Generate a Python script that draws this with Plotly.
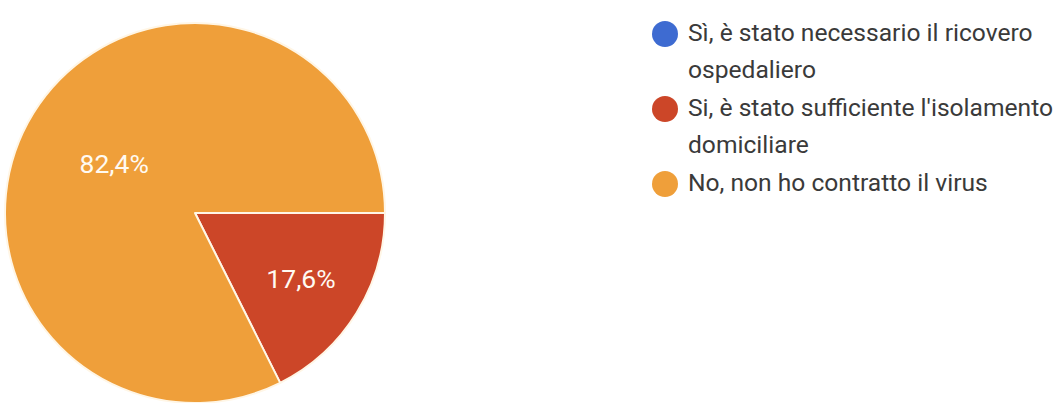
import plotly.graph_objects as go

# Survey answers and their shares (%)
labels = [
    "Sì, è stato necessario il ricovero ospedaliero",
    "Si, è stato sufficiente l'isolamento domiciliare",
    "No, non ho contratto il virus",
]
legend_lines = [
    ["Sì, è stato necessario il ricovero", "ospedaliero"],
    ["Si, è stato sufficiente l'isolamento", "domiciliare"],
    ["No, non ho contratto il virus"],
]
values = [0.0, 17.6, 82.4]
colors = ["#3e6bd1", "#cc4628", "#ef9f3a"]

W, H = 1056, 403
FONT = "Roboto, Arial, sans-serif"

fig = go.Figure()

# Pie: centre (195, 213) px, radius 190 px
cx, cy, r = 195, 213, 190
fig.add_trace(go.Pie(
    labels=labels,
    values=values,
    sort=False,
    direction="clockwise",
    rotation=90,
    marker=dict(colors=colors, line=dict(color="#fff6e6", width=2)),
    texttemplate=["" if v == 0 else "%{percent:.1%}" for v in values],
    textposition="inside",
    insidetextorientation="horizontal",
    textfont=dict(family=FONT, size=26.5, color="#fffaf2"),
    showlegend=False,
    hoverinfo="label+percent",
    domain=dict(x=[(cx - r) / W, (cx + r) / W], y=[1 - (cy + r) / H, 1 - (cy - r) / H]),
))

# Legend drawn on a pixel-space overlay axis
leg_x_dot, leg_x_text = 665, 686
first_y, line_gap = 32, 37.5
dot_x, dot_y = [], []
y = first_y
annotations = []
for lines in legend_lines:
    dot_x.append(leg_x_dot)
    dot_y.append(y + 2)
    for ln in lines:
        annotations.append(dict(
            x=leg_x_text, y=y, xref="x", yref="y", text=ln, showarrow=False,
            xanchor="left", yanchor="middle",
            font=dict(family=FONT, size=24.6, color="#3a3a3a"),
        ))
        y += line_gap

fig.add_trace(go.Scatter(
    x=dot_x, y=dot_y, mode="markers",
    marker=dict(size=26, color=colors, line=dict(width=0)),
    showlegend=False, hoverinfo="skip",
))

fig.update_layout(
    width=W, height=H,
    margin=dict(l=0, r=0, t=0, b=0),
    paper_bgcolor="white", plot_bgcolor="rgba(0,0,0,0)",
    separators=",.",
    xaxis=dict(range=[0, W], visible=False, fixedrange=True),
    yaxis=dict(range=[H, 0], visible=False, fixedrange=True),
    annotations=annotations,
)

fig.write_html("out.html")
